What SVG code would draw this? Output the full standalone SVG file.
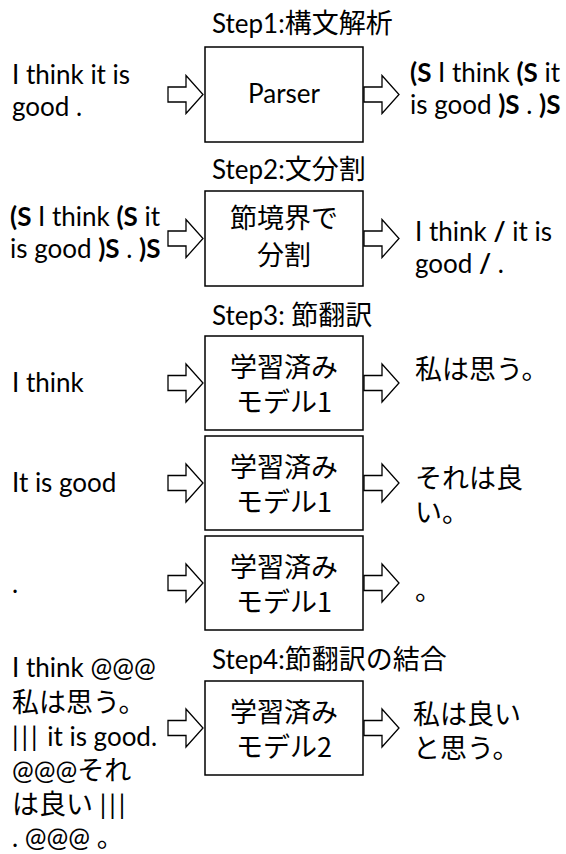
<svg xmlns="http://www.w3.org/2000/svg" width="566" height="854" viewBox="0 0 566 854">
<style>
text{font-family:Lato,"Noto Sans CJK JP",sans-serif;font-size:26px;fill:#000}
.j{font-family:"Noto Sans CJK JP",sans-serif;font-size:27px}
.c{text-anchor:middle}
.b{font-weight:bold}
.bar{letter-spacing:3px}
.box{fill:#fff;stroke:#000;stroke-width:1.5}
.arr{fill:#fff;stroke:#000;stroke-width:1.3;stroke-linejoin:miter}
</style>
<defs>
<path id="ar" d="M-35,-7.5H-17V-19L0,0L-17,19V7.5H-35Z"/>
</defs>
<g id="connectors">
<use href="#ar" class="arr" x="203" y="94.5"/>
<use href="#ar" class="arr" x="399" y="94.5"/>
<use href="#ar" class="arr" x="203" y="238.5"/>
<use href="#ar" class="arr" x="399" y="238.5"/>
<use href="#ar" class="arr" x="203" y="383"/>
<use href="#ar" class="arr" x="399" y="383"/>
<use href="#ar" class="arr" x="203" y="483"/>
<use href="#ar" class="arr" x="399" y="483"/>
<use href="#ar" class="arr" x="203" y="583"/>
<use href="#ar" class="arr" x="399" y="583"/>
<use href="#ar" class="arr" x="203" y="728"/>
<use href="#ar" class="arr" x="399" y="728"/>
</g>
<g id="step1">
<text x="212" y="33">Step1:<tspan class="j">構文解析</tspan></text>
<text x="12" y="84">I think it is<tspan x="12" y="116">good .</tspan></text>
<g id="parser"><rect class="box" x="205" y="47" width="158" height="95"/>
<text class="c" x="284" y="103">Parser</text></g>
<text x="410" y="82"><tspan class="b">(S</tspan> I think <tspan class="b">(S</tspan> it<tspan x="410" y="114">is good </tspan><tspan class="b">)S</tspan> . <tspan class="b">)S</tspan></text>
</g>
<g id="step2">
<text x="212" y="179">Step2:<tspan class="j">文分割</tspan></text>
<text x="10" y="226"><tspan class="b">(S</tspan> I think <tspan class="b">(S</tspan> it<tspan x="10" y="258">is good </tspan><tspan class="b">)S</tspan> . <tspan class="b">)S</tspan></text>
<g id="split"><rect class="box" x="205" y="191" width="158" height="95"/>
<text class="c j" x="284" y="228">節境界で<tspan x="284" y="265">分割</tspan></text></g>
<text x="415" y="241">I think <tspan class="b">/</tspan> it is<tspan x="415" y="273">good </tspan><tspan class="b">/</tspan> .</text>
</g>
<g id="step3">
<text x="212" y="325">Step3: <tspan class="j">節翻訳</tspan></text>
<text x="12" y="392">I think</text>
<g id="model1a"><rect class="box" x="205" y="336" width="158" height="94"/>
<text class="c j" x="284" y="377">学習済み<tspan x="284" y="412">モデル1</tspan></text></g>
<text class="j" x="415" y="379">私は思う。</text>
<text x="12" y="492">It is good</text>
<g id="model1b"><rect class="box" x="205" y="436" width="158" height="94"/>
<text class="c j" x="284" y="477">学習済み<tspan x="284" y="512">モデル1</tspan></text></g>
<text class="j" x="415" y="488">それは良<tspan x="415" y="522">い。</tspan></text>
<text x="12" y="593">.</text>
<g id="model1c"><rect class="box" x="205" y="536" width="158" height="94"/>
<text class="c j" x="284" y="577">学習済み<tspan x="284" y="612">モデル1</tspan></text></g>
<text class="j" x="415" y="600">。</text>
</g>
<g id="step4">
<text x="212" y="669">Step4:<tspan class="j">節翻訳の結合</tspan></text>
<text x="12" y="677">I think @@@<tspan class="j" x="12" y="712">私は思う。</tspan><tspan class="bar" x="12" y="746">|||</tspan> it is good.<tspan x="12" y="780">@@@</tspan><tspan class="j">それ</tspan><tspan class="j" x="12" y="814">は良い</tspan> <tspan class="bar">|||</tspan><tspan x="12" y="847">. @@@ </tspan><tspan class="j">。</tspan></text>
<g id="model2"><rect class="box" x="205" y="681" width="158" height="94"/>
<text class="c j" x="284" y="722">学習済み<tspan x="284" y="757">モデル2</tspan></text></g>
<text class="j" x="413" y="724">私は良い<tspan x="413" y="758">と思う。</tspan></text>
</g>
</svg>
